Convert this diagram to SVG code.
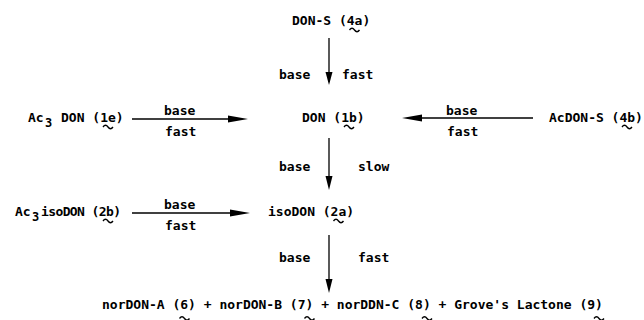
<svg xmlns="http://www.w3.org/2000/svg" width="644" height="320" viewBox="0 0 644 320">
<style>
text{font-family:"DejaVu Sans Mono","Liberation Mono",monospace;font-size:13px;font-weight:bold;fill:#000}
.sub{font-size:12px}
.ln{stroke:#000;stroke-width:1.3;fill:none}
.tl{stroke:#000;stroke-width:1.3;fill:none}
</style>
<defs>
<path id="tilde" d="M0,2.5 q2.5,-3.5 5,0 t5,0" class="tl"/>
</defs>
<rect width="644" height="320" fill="#fff"/>
<g id="connectors">
<line class="ln" x1="329" y1="38" x2="329" y2="82"/>
<path d="M325.5,72 L329,85 L332.5,72 Z"/>
<line class="ln" x1="132" y1="119" x2="232" y2="119"/>
<path d="M228,115.5 L248,119 L228,122.5 Z"/>
<line class="ln" x1="418" y1="118" x2="533" y2="118"/>
<path d="M422,114.5 L402,118 L422,121.5 Z"/>
<line class="ln" x1="329" y1="138" x2="329" y2="185"/>
<path d="M325.5,176 L329,190 L332.5,176 Z"/>
<line class="ln" x1="132" y1="213" x2="232" y2="213"/>
<path d="M230,209.5 L250,213 L230,216.5 Z"/>
<line class="ln" x1="329" y1="235" x2="329" y2="288"/>
<path d="M325.5,279 L329,293 L332.5,279 Z"/>
</g>
<g id="labels">
<text x="279" y="79">base</text>
<text x="342" y="79">fast</text>
<text x="164" y="115">base</text>
<text x="165" y="136">fast</text>
<text x="446" y="115">base</text>
<text x="447" y="136">fast</text>
<text x="279" y="171">base</text>
<text x="358" y="171">slow</text>
<text x="164" y="209">base</text>
<text x="165" y="230">fast</text>
<text x="279" y="262">base</text>
<text x="358" y="262">fast</text>
</g>
<g id="n-4a">
<text x="292" y="25">DON-S (4a)</text>
<use href="#tilde" x="349.5" y="27.5"/>
</g>
<g id="n-1e">
<text x="28" y="122">Ac</text><text class="sub" x="45" y="127">3</text><text x="61" y="122">DON (1e)</text>
<use href="#tilde" x="103" y="124.5"/>
</g>
<g id="n-1b">
<text x="302" y="122">DON (1b)</text>
<use href="#tilde" x="344" y="124.5"/>
</g>
<g id="n-4b">
<text x="549" y="122">AcDON-S (4b)</text>
<use href="#tilde" x="622" y="124.5"/>
</g>
<g id="n-2b">
<text x="15" y="216">Ac</text><text class="sub" x="32" y="221">3</text><text x="41" y="216" textLength="80">isoDON (2b)</text>
<use href="#tilde" x="103" y="218.5"/>
</g>
<g id="n-2a">
<text x="268" y="216">isoDON (2a)</text>
<use href="#tilde" x="333.5" y="218.5"/>
</g>
<g id="n-products">
<text x="102" y="309">norDON-A (6) + norDON-B (7) + norDDN-C (8) + Grove's Lactone (9)</text>
<use href="#tilde" x="179.5" y="316"/>
<use href="#tilde" x="304.5" y="316"/>
<use href="#tilde" x="422" y="316"/>
<use href="#tilde" x="594" y="316"/>
</g>
</svg>
